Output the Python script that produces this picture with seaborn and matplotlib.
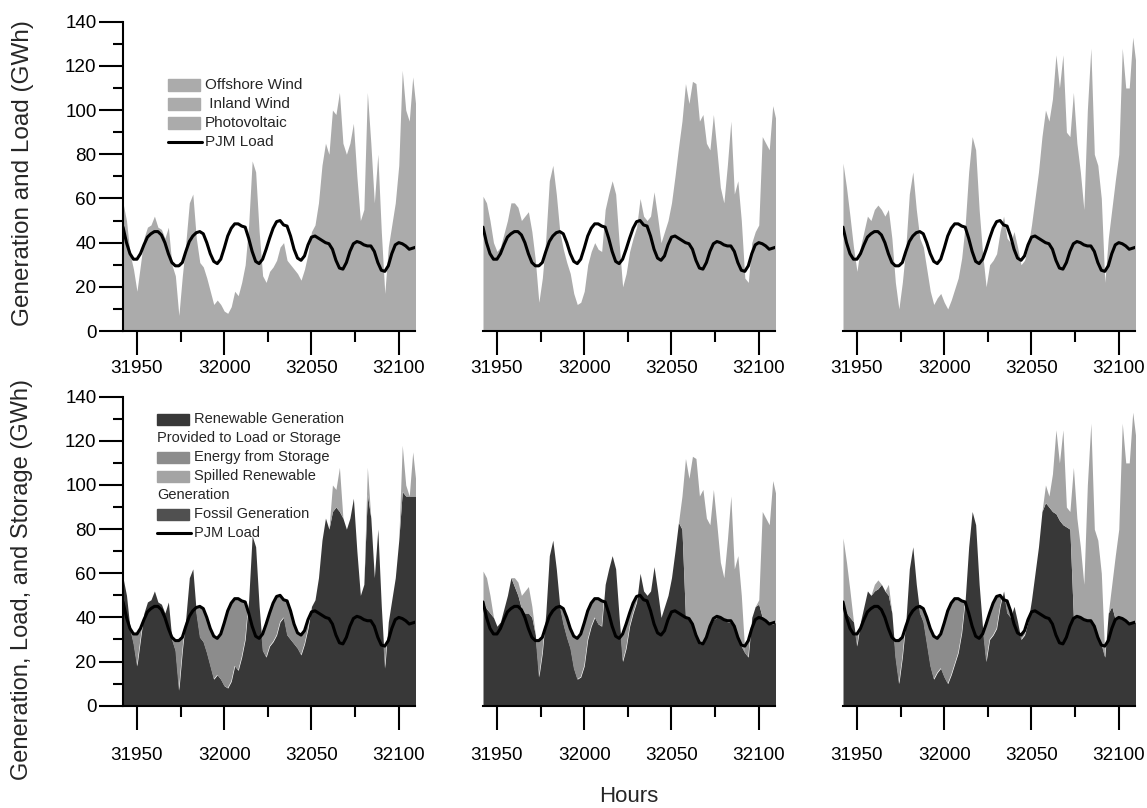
import numpy as np
import matplotlib
matplotlib.use("Agg")
import matplotlib.pyplot as plt
import seaborn as sns
from matplotlib.patches import Rectangle
from matplotlib.lines import Line2D
from matplotlib.ticker import MultipleLocator

# hourly data sampled every 2 hours, 31942 .. 32110
hours = np.arange(31942, 32111, 2)

pjm_load = [47, 40, 35, 32.5, 32.5, 35, 39, 42.5, 44, 45,
            45, 43.5, 40, 35, 31, 29.5, 29.5, 31, 36, 40.5,
            43, 44.5, 45, 44, 40, 35, 31.5, 30.5, 32.5, 37.5,
            43, 46.5, 48.5, 48.5, 47.5, 47, 42, 36, 31.5, 30.5,
            32.5, 37, 42, 46.5, 49.5, 50, 48, 47.5, 43, 37,
            33, 32, 34, 39, 42.5, 43, 42, 41, 40, 39.5,
            37, 32, 28.5, 28, 31, 36, 39.5, 40.5, 40, 39,
            38.5, 38.5, 36, 31, 27.5, 27, 29.5, 35, 39, 40,
            39.5, 38.5, 37, 37.5, 38]

# total renewable generation (offshore + inland wind + PV), one per scenario
gen_left = [58, 50, 35, 28, 18, 30, 42, 47, 48, 52,
            47, 46, 42, 47, 30, 25, 7, 25, 40, 58,
            62, 42, 31, 29, 24, 18, 12, 14, 12, 9,
            8, 11, 18, 16, 22, 30, 48, 77, 72, 45,
            25, 22, 27, 29, 32, 38, 40, 32, 30, 28,
            26, 23, 28, 35, 45, 48, 58, 75, 85, 80,
            100, 98, 108, 85, 80, 85, 94, 70, 50, 55,
            108, 85, 58, 80, 45, 17, 38, 48, 58, 75,
            118, 100, 95, 115, 100]

gen_mid = [61, 58, 50, 40, 36, 38, 44, 50, 58, 58,
           56, 50, 52, 54, 45, 32, 13, 24, 42, 68,
           75, 62, 45, 37, 31, 26, 17, 12, 13, 18,
           30, 36, 40, 37, 36, 55, 62, 68, 62, 40,
           20, 26, 36, 42, 47, 60, 52, 50, 52, 63,
           52, 40, 45, 50, 58, 70, 83, 95, 112, 103,
           113, 112, 95, 98, 85, 82, 98, 82, 65, 58,
           75, 95, 62, 68, 50, 24, 22, 40, 45, 48,
           88, 85, 82, 102, 95]

gen_right = [76, 65, 52, 38, 27, 38, 45, 52, 50, 55,
             57, 55, 52, 55, 42, 22, 10, 22, 38, 62,
             72, 55, 42, 38, 28, 18, 12, 15, 17, 13,
             10, 14, 19, 24, 33, 48, 72, 88, 82, 55,
             35, 20, 30, 32, 35, 45, 52, 42, 40, 45,
             38, 30, 32, 38, 48, 60, 72, 88, 100, 95,
             105, 125, 110, 125, 90, 88, 108, 85, 72, 55,
             100, 128, 80, 75, 60, 22, 42, 55, 68, 80,
             128, 110, 110, 133, 120]

# spilled renewable generation
spill_left = [0] * 60 + [12, 8, 20, 0, 0, 0, 0, 0, 0, 0,
                         12, 0, 0, 0, 0, 0, 0, 0, 0, 0,
                         21, 5, 0, 20, 5]

spill_mid = ([14, 14, 8, 0, 0, 0, 0, 0, 0, 4,
              6, 6, 10, 12, 5, 0, 0, 0, 0, 0]
             + [0] * 30
             + [0, 0, 0, 0, 0, 0, 0, 15, 72, 64,
                76, 80, 67, 70, 54, 46, 59, 42, 25, 19,
                37, 57, 26, 37, 23, 0, 0, 0, 0, 2,
                48, 47, 45, 65, 57])

spill_right = ([29, 23, 12, 0, 0, 0, 0, 0, 0, 3,
                4, 0, 0, 5, 0, 0, 0, 0, 0, 0]
               + [0] * 30
               + [0, 0, 0, 0, 0, 0, 0, 0, 8, 5,
                  17, 38, 26, 43, 9, 8, 68, 44, 32, 16,
                  61, 89, 44, 44, 32, 0, 0, 10, 29, 40,
                  88, 71, 73, 95, 82])

load = np.array(pjm_load)
gens = [np.array(g) for g in (gen_left, gen_mid, gen_right)]
spills = [np.array(s) for s in (spill_left, spill_mid, spill_right)]
for arr in gens + spills:
    assert len(arr) == len(hours)

sns.set_theme(style="ticks")
plt.rcParams['font.family'] = ['Liberation Sans', 'DejaVu Sans']
plt.rcParams['axes.edgecolor'] = 'black'
plt.rcParams['xtick.color'] = 'black'
plt.rcParams['ytick.color'] = 'black'

c_gen = '#ababab'
c_ren = '#383838'
c_sto = '#8c8c8c'
c_spill = '#a4a4a4'
c_fos = '#505050'

W, H = 1147, 808
fig = plt.figure(figsize=(W / 100, H / 100), dpi=100)


def make_ax(left, top, bottom, first, pad):
    ax = fig.add_axes([left / W, 1 - bottom / H, 292 / W, (bottom - top) / H])
    ax.set_xlim(31942, 32109.3)
    ax.set_ylim(0, 140)
    ax.xaxis.set_major_locator(MultipleLocator(50))
    ax.xaxis.set_minor_locator(MultipleLocator(25))
    ax.yaxis.set_major_locator(MultipleLocator(20))
    ax.yaxis.set_minor_locator(MultipleLocator(10))
    ax.tick_params(axis='x', which='major', length=17, width=1.5, labelsize=13.6, pad=pad)
    ax.tick_params(axis='x', which='minor', length=8, width=1.5)
    ax.tick_params(axis='y', which='major', length=17, width=1.5, labelsize=13.6, pad=2)
    ax.tick_params(axis='y', which='minor', length=7, width=1.5)
    for s in ['top', 'right']:
        ax.spines[s].set_visible(False)
    ax.spines['bottom'].set_linewidth(1.5)
    ax.spines['left'].set_linewidth(1.5)
    if not first:
        ax.spines['left'].set_visible(False)
        ax.tick_params(axis='y', which='both', left=False, labelleft=False)
    ax.set_xlabel('')
    ax.set_ylabel('')
    ax.patch.set_alpha(0)
    return ax


lefts = [123, 483, 843]
for i, left in enumerate(lefts):
    gen = gens[i]
    used = gen - spills[i]

    # top row: renewable generation and load
    ax = make_ax(left, 21.7, 331, i == 0, 4)
    ax.fill_between(hours, 0, gen, color=c_gen, linewidth=0)
    sns.lineplot(x=hours, y=load, ax=ax, color='black', linewidth=2.2, zorder=5)

    # bottom row: generation, load and storage
    ax = make_ax(left, 396.7, 705.7, i == 0, 13)
    ax.fill_between(hours, 0, used, color=c_ren, linewidth=0)
    ax.fill_between(hours, used, load, where=used < load, interpolate=True,
                    color=c_sto, linewidth=0)
    ax.fill_between(hours, used, gen, color=c_spill, linewidth=0)
    sns.lineplot(x=hours, y=load, ax=ax, color='black', linewidth=2.2, zorder=5)


def leg_patch(x0, yc, color):
    fig.patches.append(Rectangle((x0 / W, 1 - (yc + 5.5) / H), 32 / W, 11 / H,
                                 transform=fig.transFigure, color=color))


def leg_line(x0, x1, yc):
    fig.add_artist(Line2D([x0 / W, x1 / W], [1 - yc / H] * 2, color='black', lw=2.2))


def leg_text(x, yc, s, size):
    fig.text(x / W, 1 - yc / H, s, fontsize=size, va='center', ha='left')


# top legend
for yc, lab in zip([85, 104, 123], ['Offshore Wind', ' Inland Wind', 'Photovoltaic']):
    leg_patch(168, yc, c_gen)
    leg_text(205, yc, lab, 11)
leg_line(168, 202, 142)
leg_text(205, 142, 'PJM Load', 11)

# bottom legend
leg_patch(157, 419, c_ren)
leg_text(194, 419, 'Renewable Generation', 10.5)
leg_text(157, 438, 'Provided to Load or Storage', 10.5)
leg_patch(157, 457, c_sto)
leg_text(194, 457, 'Energy from Storage', 10.5)
leg_patch(157, 476, c_spill)
leg_text(194, 476, 'Spilled Renewable', 10.5)
leg_text(157, 495, 'Generation', 10.5)
leg_patch(157, 514, c_fos)
leg_text(194, 514, 'Fossil Generation', 10.5)
leg_line(157, 191, 533)
leg_text(194, 533, 'PJM Load', 10.5)

fig.text(23 / W, 1 - 173 / H, 'Generation and Load (GWh)', rotation=90,
         va='center', ha='center', fontsize=17.5)
fig.text(22 / W, 1 - 580 / H, 'Generation, Load, and Storage (GWh)', rotation=90,
         va='center', ha='center', fontsize=17)
fig.text(629 / W, 1 - 796 / H, 'Hours', va='center', ha='center', fontsize=16)

fig.savefig('out.png', dpi=100)
